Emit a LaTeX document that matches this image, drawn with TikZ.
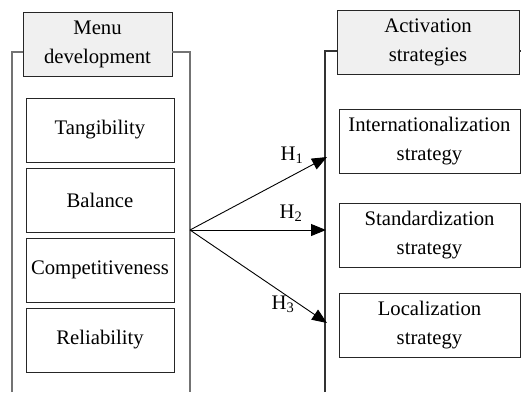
\documentclass[tikz,border=0pt]{standalone}
\usepackage{fontspec}
\setmainfont{Liberation Serif}
\usepackage{tikz}
\usetikzlibrary{arrows.meta}
\tikzset{
  txt/.style={font=\fontsize{20.7}{29}\selectfont, align=center, inner sep=0pt},
  itembox/.style={txt, draw=black!85, line width=0.9pt, minimum height=64pt},
  headbox/.style={itembox, fill=black!6},
  frame/.style={line width=1.2pt},
  hyp/.style={line width=0.9pt, -{Triangle[length=15pt,width=12pt]}}
}
\begin{document}
\begin{tikzpicture}[x=1pt,y=-1pt]
\useasboundingbox (0,0) rectangle (521,392);
% left block
\node[headbox, minimum width=149pt] (menu) at (97.5,44) {Menu\\development};
\node[itembox, minimum width=148pt] (tang) at (100,130) {Tangibility};
\node[itembox, minimum width=148pt] (bal) at (100,200) {Balance};
\node[itembox, minimum width=148pt] (comp) at (100,270) {Competitiveness};
\node[itembox, minimum width=148pt] (rel) at (100,340) {Reliability};
\draw[frame, black!55] (12,392) -- (12,52) -- (menu.west |- 0,52);
\draw[frame, black!55] (menu.east |- 0,52) -- (190,52) -- (190,392);
% right block
\node[headbox, minimum width=182pt] (act) at (428,42) {Activation\\strategies};
\node[itembox, minimum width=181pt] (intl) at (429.5,141.5) {Internationalization\\strategy};
\node[itembox, minimum width=181pt] (std) at (429.5,235) {Standardization\\strategy};
\node[itembox, minimum width=181pt] (loc) at (429.5,325) {Localization\\strategy};
\draw[frame, black!80] (325,392) -- (325,51) -- (act.west |- 0,51);
\draw[frame, black!80] (act.east |- 0,51) -- (521,51);
% hypotheses
\coordinate (hub) at (190,230);
\coordinate (h1) at (327,157);
\coordinate (h2) at (326,230);
\coordinate (h3) at (327,323);
\draw[hyp] (hub) -- (h1);
\draw[hyp] (hub) -- (h2);
\draw[hyp] (hub) -- (h3);
\node[txt] (l1) at (292,155) {H\textsubscript{1}};
\node[txt] (l2) at (291,213) {H\textsubscript{2}};
\node[txt] (l3) at (283,304) {H\textsubscript{3}};
\end{tikzpicture}
\end{document}
